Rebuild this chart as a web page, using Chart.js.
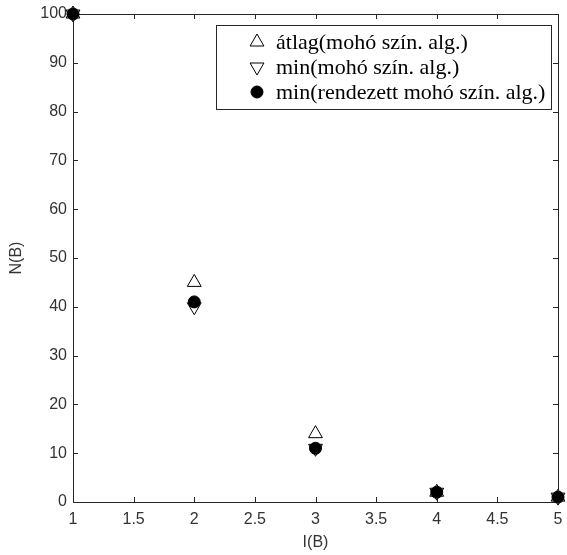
<!DOCTYPE html>
<html>
<head>
<meta charset="utf-8">
<script src="https://cdn.jsdelivr.net/npm/chart.js@4/dist/chart.umd.min.js"></script>
<style>
  html, body { margin: 0; padding: 0; background: #fff; }
  canvas { display: block; }
</style>
</head>
<body>
<canvas id="c" width="567" height="555"></canvas>
<script>
// I(B) values on the horizontal axis
const xValues = [1, 2, 3, 4, 5];
// N(B) series
const atlagMoho = [100, 45, 14, 2, 1];
const minMoho = [100, 40, 11, 2, 1];
const minRendezett = [100, 41, 11, 2, 1];
// series names shown in the legend
const seriesNames = [
  'átlag(mohó szín. alg.)',
  'min(mohó szín. alg.)',
  'min(rendezett mohó szín. alg.)'
];
// tick labels
const xTickLabels = ['1', '1.5', '2', '2.5', '3', '3.5', '4', '4.5', '5'];
const yTickLabels = ['0', '10', '20', '30', '40', '50', '60', '70', '80', '90', '100'];

const toPoints = ys => xValues.map((x, i) => ({ x, y: ys[i] }));

const AXIS_COLOR = '#262626';
const TICK_FONT = { family: 'Liberation Sans', size: 16 };

// box around the plot with short inward tick marks on all four sides
const framePlugin = {
  id: 'frame',
  beforeDatasetsDraw(chart) {
    const { ctx, chartArea: a, scales } = chart;
    const len = 5;
    ctx.save();
    ctx.strokeStyle = AXIS_COLOR;
    ctx.lineWidth = 1;
    ctx.beginPath();
    ctx.rect(Math.round(a.left) + 0.5, Math.round(a.top) + 0.5,
             Math.round(a.right - a.left), Math.round(a.bottom - a.top));
    scales.x.ticks.forEach(t => {
      const px = Math.round(scales.x.getPixelForValue(t.value)) + 0.5;
      ctx.moveTo(px, a.bottom); ctx.lineTo(px, a.bottom - len);
      ctx.moveTo(px, a.top); ctx.lineTo(px, a.top + len);
    });
    scales.y.ticks.forEach(t => {
      const py = Math.round(scales.y.getPixelForValue(t.value)) + 0.5;
      ctx.moveTo(a.left, py); ctx.lineTo(a.left + len, py);
      ctx.moveTo(a.right, py); ctx.lineTo(a.right - len, py);
    });
    ctx.stroke();
    ctx.restore();
  }
};

// boxed legend in the upper right corner of the plot
const boxLegendPlugin = {
  id: 'boxLegend',
  afterDraw(chart) {
    const { ctx, chartArea: a } = chart;
    const right = a.right - 7, top = a.top + 11;
    const width = 335, height = 84;
    const left = right - width;
    ctx.save();
    ctx.fillStyle = '#fff';
    ctx.fillRect(left, top, width, height);
    ctx.strokeStyle = AXIS_COLOR;
    ctx.lineWidth = 1;
    ctx.strokeRect(Math.round(left) + 0.5, Math.round(top) + 0.5, width, height);
    const order = [0, 1, 2];
    order.forEach((di, row) => {
      const ds = chart.data.datasets[di];
      const cy = top + 17 + row * 25;
      const sx = left + 41;
      ctx.fillStyle = ds.backgroundColor;
      ctx.strokeStyle = ds.borderColor;
      ctx.lineWidth = ds.borderWidth;
      Chart.helpers.drawPoint(ctx, {
        pointStyle: ds.pointStyle,
        radius: ds.pointRadius,
        rotation: ds.pointRotation || 0,
        borderWidth: ds.borderWidth
      }, sx, cy);
      ctx.fillStyle = '#000';
      ctx.font = '22px "Liberation Serif"';
      ctx.textBaseline = 'middle';
      ctx.textAlign = 'left';
      ctx.fillText(seriesNames[di], left + 60, cy + 1);
    });
    ctx.restore();
  }
};

new Chart(document.getElementById('c'), {
  type: 'scatter',
  data: {
    datasets: [
      {
        label: seriesNames[0],
        data: toPoints(atlagMoho),
        pointStyle: 'triangle',
        pointRadius: 8,
        pointHoverRadius: 8,
        backgroundColor: '#fff',
        borderColor: '#000',
        borderWidth: 1,
        order: 3,
        clip: false
      },
      {
        label: seriesNames[1],
        data: toPoints(minMoho),
        pointStyle: 'triangle',
        pointRotation: 180,
        pointRadius: 8,
        pointHoverRadius: 8,
        backgroundColor: '#fff',
        borderColor: '#000',
        borderWidth: 1,
        order: 2,
        clip: false
      },
      {
        label: seriesNames[2],
        data: toPoints(minRendezett),
        pointStyle: 'circle',
        pointRadius: 6,
        pointHoverRadius: 6,
        backgroundColor: '#000',
        borderColor: '#000',
        borderWidth: 1,
        order: 1,
        clip: false
      }
    ]
  },
  options: {
    responsive: false,
    animation: false,
    devicePixelRatio: 1,
    layout: { padding: { top: 14, right: 3, left: 0, bottom: 0 } },
    plugins: {
      legend: { display: false },
      tooltip: { enabled: false }
    },
    scales: {
      x: {
        type: 'linear',
        min: 1,
        max: 5,
        grid: { display: false, drawTicks: false },
        border: { display: false },
        ticks: {
          stepSize: 0.5,
          padding: 8,
          color: '#333',
          font: TICK_FONT,
          maxRotation: 0,
          callback: (v, i) => xTickLabels[i]
        },
        title: {
          display: true,
          text: 'I(B)',
          color: '#333',
          font: TICK_FONT,
          padding: { top: 0, bottom: 3 }
        },
        afterFit(s) { s.height = 53; s.paddingLeft = 0; s.paddingRight = 0; }
      },
      y: {
        type: 'linear',
        min: 0,
        max: 100,
        grid: { display: false, drawTicks: false },
        border: { display: false },
        ticks: {
          stepSize: 10,
          padding: 6,
          color: '#333',
          font: TICK_FONT,
          callback: (v, i) => yTickLabels[i]
        },
        title: {
          display: true,
          text: 'N(B)',
          color: '#333',
          font: TICK_FONT,
          padding: { top: 7, bottom: 0 }
        },
        afterFit(s) { s.width = 73; s.paddingTop = 0; s.paddingBottom = 0; }
      }
    }
  },
  plugins: [framePlugin, boxLegendPlugin]
});
</script>
</body>
</html>
